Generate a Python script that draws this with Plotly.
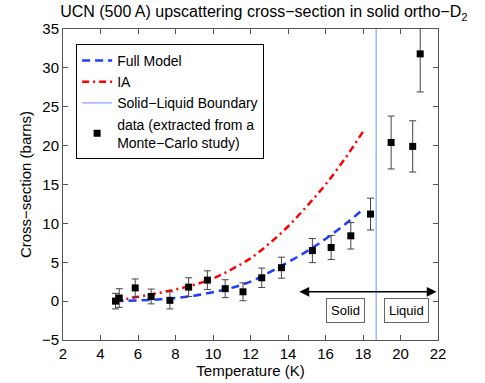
import plotly.graph_objects as go

# measured data points (Monte-Carlo study)
temp = [4.8, 5.0, 5.85, 6.7, 7.7, 8.7, 9.7, 10.65, 11.6, 12.6, 13.65,
        15.3, 16.3, 17.35, 18.4, 19.5, 20.65, 21.05]
sigma = [0.0, 0.4, 1.7, 0.6, 0.1, 1.8, 2.7, 1.6, 1.2, 3.0, 4.3,
         6.5, 6.9, 8.4, 11.2, 20.4, 19.9, 31.8]
sigma_err = [1.0, 1.2, 1.15, 0.95, 1.1, 1.2, 1.2, 1.15, 1.15, 1.25, 1.35,
             1.55, 1.55, 1.7, 2.05, 3.4, 3.3, 4.9]

# model curves
model_t = [4.8, 6, 7, 8, 9, 10, 11, 12, 13, 14, 15, 16, 17, 18]
full_model = [0.0, 0.1, 0.2, 0.4, 0.7, 1.15, 1.7, 2.5, 3.7, 5.0, 6.4, 8.0, 9.8, 11.8]
ia_model = [0.0, 0.55, 1.0, 1.5, 2.1, 2.9, 4.1, 5.5, 7.4, 9.6, 12.2, 15.0, 18.2, 21.8]

boundary_t = 18.7
y_range = [-5, 35]

FONT = "Liberation Sans, Arial, sans-serif"

fig = go.Figure()
fig.add_trace(go.Scatter(
    x=model_t, y=full_model, mode="lines", name="Full Model", line_shape="spline",
    line={"color": "#1f3dff", "width": 2.5, "dash": "8px,5px"},
))
fig.add_trace(go.Scatter(
    x=model_t, y=ia_model, mode="lines", name="IA", line_shape="spline",
    line={"color": "#ff0000", "width": 2.5, "dash": "7px,4px,2px,4px"},
))
fig.add_trace(go.Scatter(
    x=[boundary_t, boundary_t], y=y_range, mode="lines", name="Solid\u2212Liquid Boundary",
    line={"color": "#6f8cff", "width": 1},
))
fig.add_trace(go.Scatter(
    x=temp, y=sigma, mode="markers",
    name="data (extracted from a<br>Monte\u2212Carlo study)",
    marker={"color": "black", "size": 7, "symbol": "square"},
    error_y={"type": "data", "array": sigma_err, "color": "#444444",
             "thickness": 1, "width": 3.5},
))

# solid / liquid region arrow and labels
fig.add_annotation(
    x=21.92, y=1.2, ax=14.53, ay=1.2, xref="x", yref="y", axref="x", ayref="y",
    text="", showarrow=True, arrowhead=2, arrowside="end+start",
    arrowsize=1.3, arrowwidth=1.5, arrowcolor="black",
)
for label, xc in [("Solid", 17.05), ("Liquid", 20.3)]:
    fig.add_annotation(
        x=xc, y=-1.2, xref="x", yref="y", text=label, showarrow=False,
        font={"family": FONT, "size": 13, "color": "black"},
        bordercolor="#666666", borderwidth=1, borderpad=4, bgcolor="white",
    )

axis_common = dict(
    showgrid=False, zeroline=False, showline=True, mirror="allticks",
    linecolor="#555555", linewidth=1, ticks="inside", ticklen=5,
    tickcolor="#555555", tickfont={"family": FONT, "size": 15, "color": "black"},
    automargin=False,
)
fig.update_xaxes(range=[2, 22], dtick=2, title_text="Temperature (K)",
                 title_font={"family": FONT, "size": 15, "color": "black"},
                 title_standoff=0, **axis_common)
fig.update_yaxes(range=y_range, dtick=5, title_text="Cross\u2212section (barns)",
                 title_font={"family": FONT, "size": 15, "color": "black"},
                 title_standoff=6, **axis_common)

fig.update_layout(
    width=485, height=383,
    margin={"l": 63, "r": 47, "t": 29, "b": 43, "autoexpand": False},
    plot_bgcolor="white", paper_bgcolor="white",
    title={"text": "UCN (500 A) upscattering cross\u2212section in solid ortho\u2212D<sub>2</sub>",
           "xref": "container", "x": 0.544, "xanchor": "center",
           "yref": "container", "y": 0.969, "yanchor": "middle",
           "font": {"family": FONT, "size": 16, "color": "black"}},
    legend={"x": 0.035, "y": 0.952, "xanchor": "left", "yanchor": "top",
            "bgcolor": "white", "bordercolor": "black", "borderwidth": 1,
            "font": {"family": FONT, "size": 14, "color": "black"},
            "tracegroupgap": 0, "itemwidth": 30},
    showlegend=True,
)

# drop the browser's default body margin so the figure sits at the page corner
fig.write_html("out.html", config={"displayModeBar": False},
               post_script="document.body.style.margin = '0';")
